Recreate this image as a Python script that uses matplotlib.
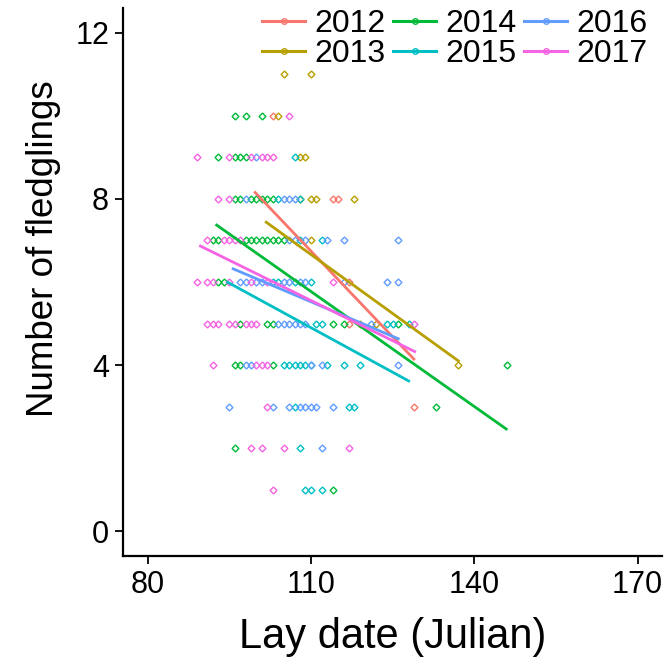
import matplotlib
matplotlib.use('Agg')
import matplotlib.pyplot as plt
from matplotlib.lines import Line2D

plt.rcParams['font.family'] = ['Liberation Sans', 'DejaVu Sans']

# Years and their colours (ggplot default hue palette)
years = ['2012', '2013', '2014', '2015', '2016', '2017']
colors = ['#F8766D', '#B79F00', '#00BA38', '#00BFC4', '#619CFF', '#F564E3']

# Lay date (Julian day) and number of fledglings for each nest, per year
lay_2012 = [103, 114, 115, 117, 117, 129]
fledge_2012 = [10, 8, 8, 6, 5, 3]

lay_2013 = [105, 110, 104, 108, 109, 108, 110, 111, 118, 110, 119, 122, 137]
fledge_2013 = [11, 11, 10, 9, 9, 8, 8, 8, 8, 7, 5, 5, 4]

lay_2014 = [96, 98, 101, 93, 96, 97, 98, 96, 97, 99, 100, 101, 102, 103,
            92, 93, 98, 99, 100, 101, 102, 103, 104, 105, 93, 94,
            97, 102, 103, 114, 116, 126, 96, 97, 103, 146, 133, 96, 114]
fledge_2014 = [10, 10, 10, 9, 9, 9, 9, 8, 8, 8, 8, 8, 8, 8,
               7, 7, 7, 7, 7, 7, 7, 7, 7, 7, 6, 6,
               5, 5, 5, 5, 5, 5, 4, 4, 4, 4, 3, 2, 1]

lay_2015 = [107, 104, 108, 108, 112, 103, 104, 107, 110, 111, 112, 124, 125, 128,
            105, 106, 107, 108, 109, 110, 113, 116, 119, 107, 117, 118, 108,
            109, 110, 112]
fledge_2015 = [9, 8, 8, 7, 7, 6, 6, 6, 6, 5, 5, 5, 5, 5,
               4, 4, 4, 4, 4, 4, 4, 4, 4, 3, 3, 3, 2,
               1, 1, 1]

lay_2016 = [100, 98, 105, 106, 107, 106, 107, 109, 113, 116, 126,
            97, 98, 100, 101, 105, 106, 108, 109, 116, 124, 126,
            104, 105, 106, 107, 108, 109, 121, 98, 99, 110, 112, 126,
            95, 103, 106, 108, 109, 110, 111, 114, 112]
fledge_2016 = [9, 8, 8, 8, 8, 7, 7, 7, 7, 7, 7,
               6, 6, 6, 6, 6, 6, 6, 6, 6, 6, 6,
               5, 5, 5, 5, 5, 5, 5, 4, 4, 4, 4, 4,
               3, 3, 3, 3, 3, 3, 3, 3, 2]

lay_2017 = [106, 89, 95, 99, 101, 102, 103, 93, 95, 91, 94, 95, 96, 97,
            89, 91, 92, 95, 99, 102, 114, 91, 92, 93, 95, 96, 98, 99, 100, 129,
            92, 100, 101, 102, 102, 99, 101, 105, 117, 103]
fledge_2017 = [10, 9, 9, 9, 9, 9, 9, 8, 8, 7, 7, 7, 7, 7,
               6, 6, 6, 6, 6, 6, 6, 5, 5, 5, 5, 5, 5, 5, 5, 5,
               4, 4, 4, 4, 3, 2, 2, 2, 2, 1]

lay_dates = [lay_2012, lay_2013, lay_2014, lay_2015, lay_2016, lay_2017]
fledglings = [fledge_2012, fledge_2013, fledge_2014, fledge_2015, fledge_2016, fledge_2017]

# Linear fits per year: start/end lay date and fitted fledglings
fit_start_day = [99.6, 101.6, 92.5, 94.5, 95.5, 89.5]
fit_start_val = [8.18, 7.46, 7.39, 6.01, 6.33, 6.88]
fit_end_day = [129.1, 137.3, 146.1, 128.2, 126.3, 129.3]
fit_end_val = [4.12, 4.08, 2.44, 3.60, 4.62, 4.31]

x_ticks = [80, 110, 140, 170]
y_ticks = [0, 4, 8, 12]

fig = plt.figure(figsize=(6.68, 6.65), dpi=100)
ax = fig.add_axes([123 / 668, 1 - 556 / 665, 539 / 668, 548 / 665])

# Open diamonds for the nests
for days, counts, col in zip(lay_dates, fledglings, colors):
    ax.plot(days, counts, linestyle='none', marker='D', markersize=3.5,
            markerfacecolor='none', markeredgecolor=col, markeredgewidth=1.0)

# Regression lines
for i, col in enumerate(colors):
    ax.plot([fit_start_day[i], fit_end_day[i]], [fit_start_val[i], fit_end_val[i]],
            color=col, linewidth=2.0, solid_capstyle='butt')

ax.set_xlim(75.5, 174.5)
ax.set_ylim(-0.6, 12.6)
ax.set_xticks(x_ticks)
ax.set_yticks(y_ticks)
ax.tick_params(axis='both', which='major', labelsize=22, length=6, width=1.3,
               color='black', labelcolor='black', pad=4)

for side in ['top', 'right']:
    ax.spines[side].set_visible(False)
for side in ['left', 'bottom']:
    ax.spines[side].set_linewidth(1.6)
    ax.spines[side].set_color('black')

ax.set_xlabel('Lay date (Julian)', fontsize=30, labelpad=12)
ax.set_ylabel('Number of fledglings', fontsize=26.5)
ax.yaxis.set_label_coords(-0.115, 0.56)

# Legend: line with a small open circle for each year, three columns
handles = [Line2D([0], [0], color=col, linewidth=2.2, marker='o', markersize=4,
                  markerfacecolor='none', markeredgecolor=col, markeredgewidth=1.0)
           for col in colors]
fig.legend(handles, years, loc='upper left', bbox_to_anchor=(262 / 668, 1 - 9 / 665),
           bbox_transform=fig.transFigure, ncol=3, frameon=False, fontsize=23,
           handlelength=1.35, handletextpad=0.3, columnspacing=0.22,
           labelspacing=0.0, borderpad=0.0, borderaxespad=0.0)

fig.savefig('out.png', dpi=100)
